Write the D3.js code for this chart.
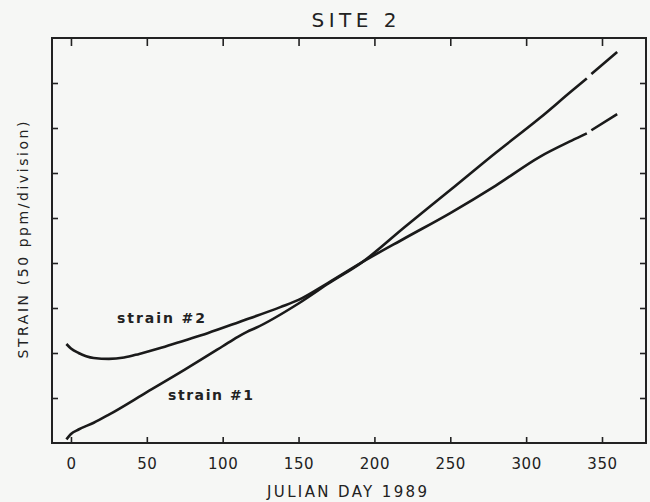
<!DOCTYPE html>
<html>
<head>
<meta charset="utf-8">
<script src="https://cdn.jsdelivr.net/npm/d3@7"></script>
<style>
  body { margin: 0; background: #f6f7f5; }
  svg { display: block; }
  text { font-family: "DejaVu Sans", sans-serif; fill: #222; }
</style>
</head>
<body>
<svg width="650" height="502"></svg>
<script>
// julian day vs strain (in divisions of 50 ppm), null = gap in the trace
var strain1Days = [-3, 0, 5, 15, 25, 50, 75, 100, 110, 116, 122, 150, 170, 192, 220, 250, 280, 309, 330, 340, 341, 343, 360];
var strain1Vals = [0.08, 0.2, 0.3, 0.45, 0.63, 1.13, 1.63, 2.15, 2.36, 2.47, 2.56, 3.1, 3.55, 4.02, 4.8, 5.62, 6.45, 7.22, 7.82, 8.1, null, 8.2, 8.69];

var strain2Days = [-3, 0, 5, 10, 15, 25, 35, 45, 60, 75, 90, 111, 138, 150, 169, 192, 220, 250, 280, 309, 330, 340, 341, 343, 360];
var strain2Vals = [2.2, 2.1, 2.0, 1.93, 1.89, 1.87, 1.9, 1.98, 2.12, 2.28, 2.44, 2.69, 3.02, 3.18, 3.55, 4.02, 4.55, 5.11, 5.72, 6.36, 6.72, 6.88, null, 6.95, 7.31];

var xTicks = [0, 50, 100, 150, 200, 250, 300, 350];
var yTicks = [1, 2, 3, 4, 5, 6, 7, 8];

var svg = d3.select("svg");
var plotLeft = 52, plotRight = 646, plotTop = 38, plotBottom = 443;

var x = d3.scaleLinear().domain([-12.5, 379]).range([plotLeft, plotRight]);
var y = d3.scaleLinear().domain([0, 9]).range([plotBottom, plotTop]);

function toPoints(days, vals) {
    return days.map(function(d, i) { return {day: d, val: vals[i]}; });
}

var line = d3.line()
    .defined(function(d) { return d.val !== null; })
    .x(function(d) { return x(d.day); })
    .y(function(d) { return y(d.val); })
    .curve(d3.curveMonotoneX);

// ticks, all pointing inward
var axisG = svg.append("g").attr("class", "axes");
axisG.append("g").attr("transform", "translate(0," + plotBottom + ")")
    .call(d3.axisBottom(x).tickValues(xTicks).tickSize(-6).tickPadding(15));
axisG.append("g").attr("transform", "translate(0," + plotTop + ")")
    .call(d3.axisTop(x).tickValues(xTicks).tickSize(-8).tickFormat(""));
axisG.append("g").attr("transform", "translate(" + plotLeft + ",0)")
    .call(d3.axisLeft(y).tickValues(yTicks).tickSize(-6).tickFormat(""));
axisG.append("g").attr("transform", "translate(" + plotRight + ",0)")
    .call(d3.axisRight(y).tickValues(yTicks).tickSize(-6).tickFormat(""));

axisG.selectAll(".domain").remove();
axisG.selectAll(".tick line").attr("stroke", "#222").attr("stroke-width", 1.6);
axisG.selectAll(".tick text")
    .style("font-family", "DejaVu Sans, sans-serif")
    .style("font-size", "15px")
    .style("letter-spacing", "0.6px")
    .attr("fill", "#222");

// frame
svg.append("rect")
    .attr("x", plotLeft).attr("y", plotTop)
    .attr("width", plotRight - plotLeft).attr("height", plotBottom - plotTop)
    .attr("fill", "none").attr("stroke", "#222").attr("stroke-width", 2);

// traces
svg.append("path")
    .datum(toPoints(strain1Days, strain1Vals))
    .attr("d", line)
    .attr("fill", "none").attr("stroke", "#1a1a1a").attr("stroke-width", 2.6);

svg.append("path")
    .datum(toPoints(strain2Days, strain2Vals))
    .attr("d", line)
    .attr("fill", "none").attr("stroke", "#1a1a1a").attr("stroke-width", 2.6);

// labels
svg.append("text")
    .attr("x", 354).attr("y", 27)
    .attr("text-anchor", "middle")
    .style("font-size", "20px")
    .attr("textLength", 85).attr("lengthAdjust", "spacing")
    .text("SITE 2");

svg.append("text")
    .attr("x", 347).attr("y", 497)
    .attr("text-anchor", "middle")
    .style("font-size", "15px")
    .attr("textLength", 160).attr("lengthAdjust", "spacing")
    .text("JULIAN DAY 1989");

svg.append("text")
    .attr("transform", "translate(28,240) rotate(-90)")
    .attr("text-anchor", "middle")
    .style("font-size", "14px")
    .attr("textLength", 237).attr("lengthAdjust", "spacing")
    .text("STRAIN (50 ppm/division)");

svg.append("text")
    .attr("x", 117).attr("y", 323)
    .style("font-size", "14px").style("font-weight", "bold")
    .attr("textLength", 88).attr("lengthAdjust", "spacing")
    .text("strain #2");

svg.append("text")
    .attr("x", 168).attr("y", 400)
    .style("font-size", "14px").style("font-weight", "bold")
    .attr("textLength", 85).attr("lengthAdjust", "spacing")
    .text("strain #1");
</script>
</body>
</html>
